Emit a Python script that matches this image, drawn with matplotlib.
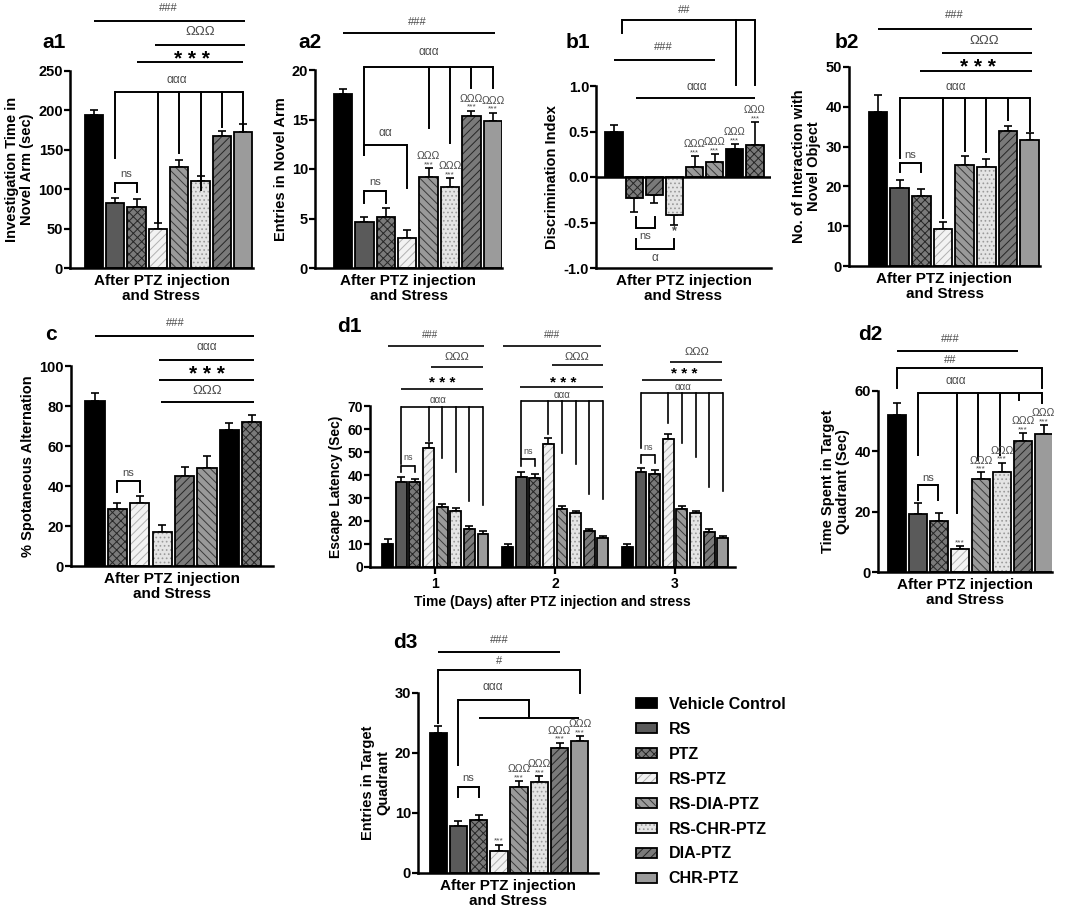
import matplotlib
matplotlib.use("Agg")
import matplotlib.pyplot as plt
import numpy as np
from matplotlib.patches import Patch
from matplotlib.legend_handler import HandlerTuple

plt.rcParams['font.family'] = ['Liberation Sans', 'DejaVu Sans']
plt.rcParams['hatch.linewidth'] = 0.7

# ---- data ----
groups = ['Vehicle Control', 'RS', 'PTZ', 'RS-PTZ', 'RS-DIA-PTZ', 'RS-CHR-PTZ', 'DIA-PTZ', 'CHR-PTZ']

a1_mean = [194, 83, 78, 50, 128, 111, 167, 173]
a1_sem = [7, 6, 9, 7, 9, 6, 7, 10]
a2_mean = [17.6, 4.6, 5.2, 3.0, 9.2, 8.2, 15.4, 14.8]
a2_sem = [0.5, 0.6, 0.9, 0.8, 0.9, 0.9, 0.5, 0.9]
b1_mean = [0.49, -0.23, -0.20, -0.42, 0.11, 0.17, 0.31, 0.35]
b1_sem = [0.08, 0.15, 0.09, 0.11, 0.12, 0.08, 0.05, 0.25]
b2_mean = [38.7, 19.5, 17.5, 9.3, 25.3, 24.8, 33.8, 31.7]
b2_sem = [4.2, 2.2, 1.8, 1.8, 2.4, 2.2, 1.3, 1.7]
c_mean = [82.5, 28.5, 31.3, 16.8, 44.8, 49.2, 67.8, 72.2]
c_sem = [3.8, 3.0, 3.8, 3.5, 4.5, 6.0, 3.8, 3.5]
d1_days = ['1', '2', '3']
d1_mean = [[10.2, 37.1, 36.8, 51.6, 26.3, 24.3, 16.4, 14.5],
           [8.7, 39.1, 38.8, 53.6, 25.3, 23.3, 15.5, 12.8],
           [8.7, 41.1, 40.6, 55.6, 25.3, 23.3, 15.4, 12.8]]
d1_sem = [[1.8, 2.2, 1.5, 2.5, 1.3, 1.3, 1.3, 1.2],
          [1.5, 2.0, 1.5, 2.5, 1.2, 1.2, 1.2, 0.8],
          [1.5, 2.0, 1.5, 2.3, 1.2, 1.2, 1.2, 0.8]]
d2_mean = [52.2, 19.2, 16.8, 7.6, 30.8, 33.0, 43.3, 45.6]
d2_sem = [3.7, 3.7, 2.6, 1.0, 2.2, 3.2, 2.8, 3.0]
d3_mean = [23.3, 7.8, 8.8, 3.7, 14.3, 15.1, 20.8, 22.0]
d3_sem = [1.2, 0.9, 0.9, 1.0, 1.0, 1.0, 0.9, 0.8]

# fill, hatch, hatch colour
STYLES = [
    ('#000000', '', None),
    ('#5a5a5a', '', None),
    ('#7a7a7a', 'xxxx', '#262626'),
    ('#f2f2f2', '////', '#b0b0b0'),
    ('#9a9a9a', '\\\\\\\\', '#3a3a3a'),
    ('#e4e4e4', '....', '#9a9a9a'),
    ('#7a7a7a', '////', '#262626'),
    ('#9b9b9b', '', None),
]
STD = list(range(8))
ALT = [0, 2, 6, 5, 4, 4, 0, 2]
C_ST = [0, 2, 3, 5, 6, 4, 0, 2]

W, H = 1065, 909
fig = plt.figure(figsize=(W / 100, H / 100), dpi=100)
GREY = '#4a4a4a'
BIG = '* * *'


def make_ax(px, xlim, ylim, yticks, ylabel, ytl=None, fs=10.5):
    x0, y0, x1, y1 = px
    ax = fig.add_axes([x0 / W, 1 - y1 / H, (x1 - x0) / W, (y1 - y0) / H])
    ax.set_xlim(*xlim)
    ax.set_ylim(*ylim)
    for s in ['top', 'right']:
        ax.spines[s].set_visible(False)
    for s in ['left', 'bottom']:
        ax.spines[s].set_linewidth(1.8)
    ax.set_yticks(yticks)
    if ytl is not None:
        ax.set_yticklabels(ytl)
    ax.tick_params(axis='y', length=4, width=1.6, labelsize=fs, pad=1)
    ax.tick_params(axis='x', length=0)
    ax.set_xticks([])
    for t in ax.get_yticklabels():
        t.set_fontweight('bold')
    ax.set_ylabel(ylabel, fontsize=fs, fontweight='bold', labelpad=3, linespacing=1.1)
    return ax


def draw_bars(ax, xs, mean, sem, styles, width=0.86):
    mean = np.asarray(mean, float)
    sem = np.asarray(sem, float)
    for x, m, st in zip(xs, mean, styles):
        fc, hatch, hc = STYLES[st]
        if hatch:
            ax.bar(x, m, width, color=fc, hatch=hatch, edgecolor=hc, linewidth=0, zorder=2)
            ax.bar(x, m, width, fill=False, edgecolor='k', linewidth=1.3, zorder=3)
        else:
            ax.bar(x, m, width, color=fc, edgecolor='k', linewidth=1.3, zorder=2)
    lo = np.where(mean < 0, sem, 0)
    hi = np.where(mean >= 0, sem, 0)
    ax.errorbar(xs, mean, yerr=[lo, hi], fmt='none', ecolor='k', elinewidth=1.2,
                capsize=3, capthick=1.2, zorder=1)


def hl(ax, x0, x1, y, lw=1.4):
    ax.plot([x0, x1], [y, y], color='k', lw=lw, clip_on=False, solid_capstyle='butt')


def br(ax, y, drops, lw=1.4):
    xs = [d[0] for d in drops]
    hl(ax, min(xs), max(xs), y, lw)
    for x, yb in drops:
        ax.plot([x, x], [y, yb], color='k', lw=lw, clip_on=False)


def tx(ax, x, y, s, fs=8, bold=False, color=GREY):
    ax.text(x, y, s, ha='center', va='center', fontsize=fs, color=color,
            fontweight='bold' if bold else 'normal', clip_on=False)


def stars(ax, xs, mean, sem, idx, omega=True, fs=6):
    for i in idx:
        top = mean[i] + sem[i]
        ax.annotate('***', (xs[i], top), xytext=(0, 0), textcoords='offset points',
                    ha='center', va='bottom', fontsize=fs, color=GREY, annotation_clip=False)
        if omega:
            ax.annotate('ΩΩΩ', (xs[i], top), xytext=(0, 5), textcoords='offset points',
                        ha='center', va='bottom', fontsize=fs + 1.5, color=GREY,
                        annotation_clip=False)


def after(ax):
    ax.set_xlabel('After PTZ injection\nand Stress', fontsize=11, fontweight='bold',
                  labelpad=4, linespacing=1.15)


def plabel(x, y, s):
    fig.text(x / W, 1 - y / H, s, fontsize=15, fontweight='bold', va='center', ha='left')


X = np.arange(8)

# ---- a1 ----
ax = make_ax((70, 71, 253, 268), (-1.12, 7.46), (0, 250), range(0, 251, 50),
             'Investigation Time in\nNovel Arm (sec)')
draw_bars(ax, X, a1_mean, a1_sem, STD)
after(ax)
tx(ax, 3.5, 330, '###'); hl(ax, 0, 7.1, 313)
tx(ax, 5.0, 300, 'ΩΩΩ', 9.5); hl(ax, 2.86, 7.1, 283)
tx(ax, 4.6, 265, BIG, 15, True, 'k'); hl(ax, 2.0, 7.0, 261)
tx(ax, 3.9, 238, 'ααα', 8.5)
br(ax, 223, [(1, 140), (3, 57), (4, 146), (5, 99), (6, 179), (7, 173)])
br(ax, 108, [(1, 97), (2, 97)]); tx(ax, 1.5, 119, 'ns')
plabel(42, 43, 'a1')

# ---- a2 ----
ax = make_ax((315, 70, 502, 268), (-1.31, 7.43), (0, 20), range(0, 21, 5),
             'Entries in Novel Arm')
draw_bars(ax, X, a2_mean, a2_sem, STD)
after(ax)
tx(ax, 3.46, 24.8, '###'); hl(ax, 0, 7.1, 23.7)
tx(ax, 4.0, 21.8, 'ααα', 8.5)
br(ax, 20.3, [(1, 11.4), (4, 14.1), (5, 12.6), (6, 18.2), (7, 18.2)])
br(ax, 12.4, [(1, 11.4), (3, 8.1)]); tx(ax, 2.0, 13.6, 'αα', 8.5)
br(ax, 7.8, [(1, 6.6), (2, 6.6)]); tx(ax, 1.5, 8.7, 'ns')
stars(ax, X, a2_mean, a2_sem, [4, 5, 6, 7])
plabel(298, 43, 'a2')

# ---- b1 ----
ax = make_ax((596, 86, 771, 268), (-0.9, 7.8), (-1, 1), [-1, -0.5, 0, 0.5, 1],
             'Discrimination Index', ['-1.0', '-0.5', '0.0', '0.5', '1.0'])
draw_bars(ax, X, b1_mean, b1_sem, ALT)
ax.axhline(0, color='k', lw=1.8, zorder=4)
after(ax)
tx(ax, 3.5, 1.84, '##')
br(ax, 1.72, [(0.4, 1.58), (6.07, 1.01), (7.0, 1.01)])
tx(ax, 2.45, 1.43, '###'); hl(ax, 0, 5.0, 1.29)
tx(ax, 4.1, 0.99, 'ααα', 8.5); hl(ax, 1.1, 7.0, 0.87)
br(ax, -0.56, [(1.1, -0.44), (2.05, -0.44)]); tx(ax, 1.55, -0.65, 'ns')
br(ax, -0.79, [(1.1, -0.68), (3.0, -0.68)]); tx(ax, 2.05, -0.89, 'α', 8.5)
ax.annotate('*', (3, b1_mean[3] - b1_sem[3]), xytext=(0, 0), textcoords='offset points',
            ha='center', va='top', fontsize=9, color=GREY, fontweight='bold')
stars(ax, X, b1_mean, b1_sem, [4, 5, 6, 7], fs=5.5)
plabel(566, 43, 'b1')

# ---- b2 ----
ax = make_ax((849, 67, 1040, 266), (-1.34, 7.47), (0, 50), range(0, 51, 10),
             'No. of Interaction with\nNovel Object')
draw_bars(ax, X, b2_mean, b2_sem, STD)
after(ax)
tx(ax, 3.5, 63, '###'); hl(ax, 0, 7.1, 59.5)
tx(ax, 4.9, 56.6, 'ΩΩΩ', 9.5); hl(ax, 2.95, 7.1, 53.6)
tx(ax, 4.6, 49.8, BIG, 15, True, 'k'); hl(ax, 1.95, 7.1, 49.0)
tx(ax, 3.6, 45, 'ααα', 8.5)
br(ax, 42.2, [(1, 27.1), (3, 12), (4, 29), (5, 28.7), (6, 36.7), (7, 33.9)])
br(ax, 25.8, [(1, 23.7), (2, 23.7)]); tx(ax, 1.5, 28, 'ns')
plabel(835, 43, 'b2')

# ---- c ----
ax = make_ax((71, 366, 273, 566), (-1.07, 7.95), (0, 100), range(0, 101, 20),
             '% Spotaneous Alternation')
draw_bars(ax, X, c_mean, c_sem, C_ST)
after(ax)
tx(ax, 3.6, 121.5, '###'); hl(ax, 0, 7.1, 115)
tx(ax, 5.0, 109.5, 'ααα', 8.5); hl(ax, 2.86, 7.1, 103)
tx(ax, 5.0, 95.5, BIG, 15, True, 'k'); hl(ax, 2.86, 7.1, 93)
tx(ax, 5.0, 87.5, 'ΩΩΩ', 9.5); hl(ax, 2.95, 7.1, 82)
br(ax, 42.5, [(1, 37), (2, 37)]); tx(ax, 1.5, 46.5, 'ns')
plabel(45, 335, 'c')

# ---- d1 ----
GAP = 8.8
ax = make_ax((370, 406, 735, 567), (-1.3, 25.5), (0, 70), range(0, 71, 10),
             'Escape Latency (Sec)', fs=10)
for g in range(3):
    draw_bars(ax, X + g * GAP, d1_mean[g], d1_sem[g], STD, width=0.8)
ax.set_xticks(3.5 + GAP * np.arange(3))
ax.set_xticklabels(d1_days, fontweight='bold', fontsize=10)
ax.tick_params(axis='x', length=5, width=1.6, pad=2)
ax.set_xlabel('Time (Days) after PTZ injection and stress', fontsize=10,
              fontweight='bold', labelpad=3)
d1_ann = [
    dict(hash=(3.1, 101, -0.0, 7.05, 96), om=(5.1, 91.3, 3.2, 7.0, 87), st=(4.0, 80, 1.0, 7.0, 77.4),
         al=(3.7, 72.6, 69.6), drops=[(1, 45), (3, 55), (4, 47.4), (5, 41.3), (6, 28.7), (7, 27)],
         ns=(43.9, 41.3, 47.5)),
    dict(hash=(3.3, 101, -0.35, 6.85, 96), om=(5.1, 91.3, 3.25, 7.0, 87.8), st=(4.1, 80, 0.9, 7.0, 78.3),
         al=(4.0, 75, 72), drops=[(1, 47.4), (3, 58), (4, 49.5), (5, 44.8), (6, 31.7), (7, 29.6)],
         ns=(47, 44, 50.3)),
    dict(hash=None, om=(5.1, 93.5, 3.1, 6.95, 89), st=(4.2, 84, 1.05, 6.95, 81.3),
         al=(4.1, 78.3, 75.7), drops=[(1, 51.7), (3, 62.6), (4, 53.9), (5, 47.8), (6, 34.8), (7, 33)],
         ns=(48.7, 45.2, 52)),
]
for g, a in enumerate(d1_ann):
    o = g * GAP
    if a['hash']:
        x, y, x0, x1, yl = a['hash']
        tx(ax, x + o, y, '###', 7); hl(ax, x0 + o, x1 + o, yl, 1.2)
    x, y, x0, x1, yl = a['om']
    tx(ax, x + o, y, 'ΩΩΩ', 8); hl(ax, x0 + o, x1 + o, yl, 1.2)
    x, y, x0, x1, yl = a['st']
    tx(ax, x + o, y, '* * *', 11, True, 'k'); hl(ax, x0 + o, x1 + o, yl, 1.2)
    x, y, yl = a['al']
    tx(ax, x + o, y, 'ααα', 7)
    br(ax, yl, [(dx + o, dy) for dx, dy in a['drops']], 1.2)
    yb, yd, yt = a['ns']
    br(ax, yb, [(1 + o, yd), (2 + o, yd)], 1.2); tx(ax, 1.5 + o, yt, 'ns', 6.5)
plabel(337, 326, 'd1')

# ---- d2 ----
ax = make_ax((878, 391, 1052, 572), (-0.9, 7.4), (0, 60), [0, 20, 40, 60],
             'Time Spent in Target\nQuadrant (Sec)')
draw_bars(ax, X, d2_mean, d2_sem, STD)
after(ax)
tx(ax, 2.55, 77.2, '###'); hl(ax, 0, 5.8, 73.2)
tx(ax, 2.55, 70.4, '##'); br(ax, 67.5, [(0, 61), (6.9, 61)])
tx(ax, 2.8, 63.2, 'ααα', 8.5)
br(ax, 59.3, [(1, 38.7), (2.86, 19.5), (3.87, 37), (4.93, 38.7), (5.84, 57), (6.9, 56)])
br(ax, 28.8, [(1, 23.8), (1.96, 23.8)]); tx(ax, 1.5, 31, 'ns')
stars(ax, X, d2_mean, d2_sem, [4, 5, 6, 7])
stars(ax, X, d2_mean, d2_sem, [3], omega=False)
plabel(858, 335, 'd2')

# ---- d3 ----
ax = make_ax((418, 693, 598, 873), (-1.0, 7.9), (0, 30), [0, 10, 20, 30],
             'Entries in Target\nQuadrant')
draw_bars(ax, X, d3_mean, d3_sem, STD)
after(ax)
tx(ax, 3.0, 38.8, '###'); hl(ax, 0, 6.0, 36.8)
tx(ax, 3.0, 35.4, '#'); br(ax, 33.8, [(0, 25), (7, 30)])
tx(ax, 2.7, 31.0, 'ααα', 8.5)
br(ax, 28.8, [(1, 18), (4.5, 25.8)]); hl(ax, 2.0, 6.95, 25.8)
br(ax, 14.3, [(1, 12.7), (2, 12.7)]); tx(ax, 1.5, 15.8, 'ns')
stars(ax, X, d3_mean, d3_sem, [4, 5, 6, 7])
stars(ax, X, d3_mean, d3_sem, [3], omega=False)
plabel(393, 643, 'd3')

# ---- legend ----
handles = []
for fc, hatch, hc in STYLES:
    if hatch:
        handles.append((Patch(facecolor=fc, hatch=hatch, edgecolor=hc, linewidth=0),
                        Patch(fill=False, edgecolor='k', linewidth=1.3)))
    else:
        handles.append(Patch(facecolor=fc, edgecolor='k', linewidth=1.3))
fig.legend(handles, groups, handler_map={tuple: HandlerTuple(ndivide=1)},
           loc='upper left', bbox_to_anchor=(636 / W, 1 - 697 / H), frameon=False,
           prop=dict(weight='bold', size=11.5), handlelength=1.3, handleheight=0.6,
           labelspacing=0.62, handletextpad=0.75, borderpad=0, borderaxespad=0)

fig.savefig('out.png', dpi=100)
